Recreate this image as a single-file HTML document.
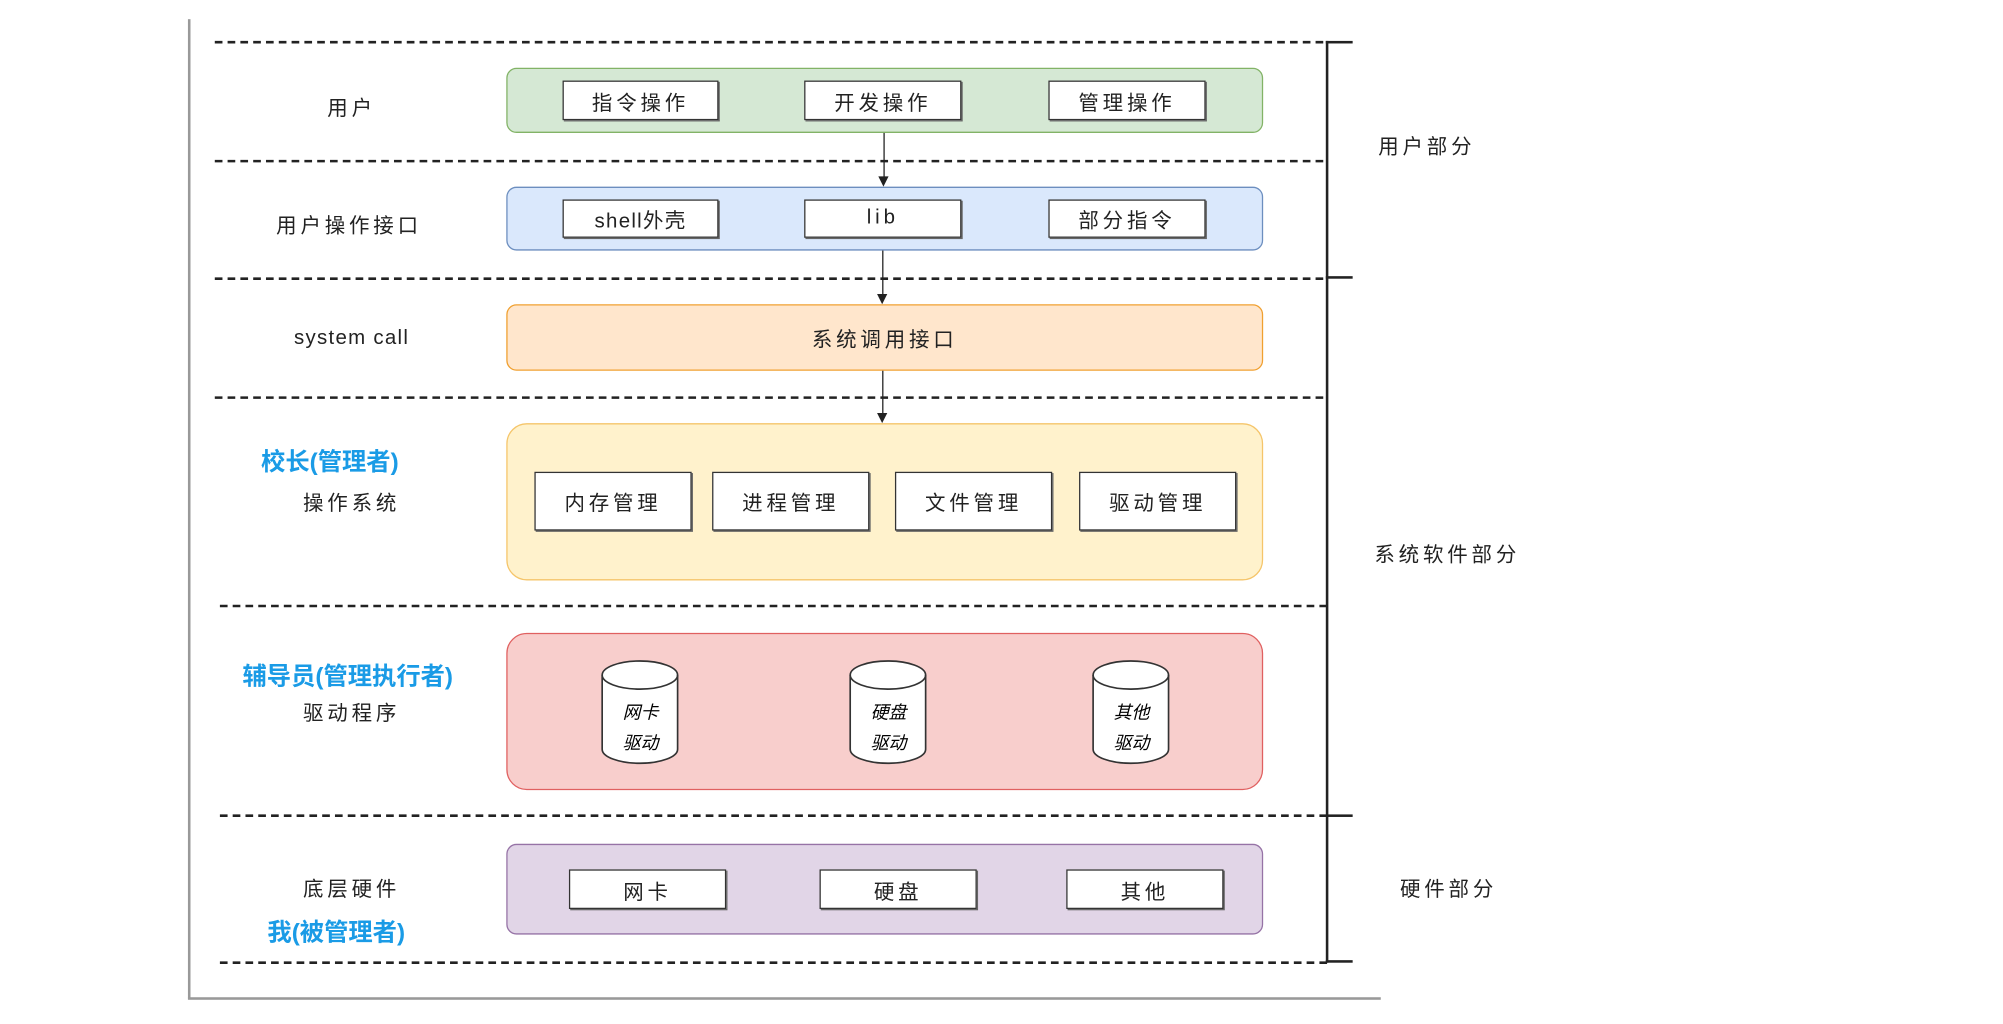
<!DOCTYPE html>
<html><head><meta charset="utf-8"><style>
html,body{margin:0;padding:0;background:#fff;width:2003px;height:1024px;overflow:hidden}
#s{position:absolute;left:0;top:0;width:1566px;height:801px;transform:scale(1.2785);transform-origin:0 0;font-family:"Liberation Sans","Noto Sans CJK SC",sans-serif;color:#222}
.a{position:absolute;box-sizing:border-box}
.d{position:absolute;height:0;border-top:2px dashed #222}
.b{position:absolute;box-sizing:border-box;border-radius:8px;border:1.2px solid}
.i{position:absolute;box-sizing:border-box;background:#fff;border:1.3px solid #333;box-shadow:1px 1px 0 #666;display:flex;align-items:center;justify-content:center;font-size:16px;letter-spacing:3px}
.t{position:absolute;transform:translate(-50%,-50%);white-space:nowrap;font-size:16px;letter-spacing:3px}
.bl{color:#1a9be6;font-weight:bold;letter-spacing:0;font-size:19px}
.ar{position:absolute;width:0;border-left:1.3px solid #222}
.ah{position:absolute;width:0;height:0;border-left:4px solid transparent;border-right:4px solid transparent;border-top:8px solid #222}
.cy{position:absolute;width:61px;height:82px}
</style></head><body><div id="s">
<div class="a" style="left:147px;top:15px;width:1.5px;height:766px;background:#999"></div>
<div class="a" style="left:147px;top:780px;width:933px;height:1.5px;background:#999"></div>
<div class="d" style="left:168px;width:867px;top:32px"></div>
<div class="d" style="left:168px;width:867px;top:125px"></div>
<div class="d" style="left:168px;width:867px;top:217px"></div>
<div class="d" style="left:168px;width:867px;top:310px"></div>
<div class="d" style="left:172px;width:866px;top:473px"></div>
<div class="d" style="left:172px;width:866px;top:637px"></div>
<div class="d" style="left:172px;width:866px;top:752px"></div>
<div class="a" style="left:1037px;top:32px;width:2px;height:721px;background:#222"></div>
<div class="a" style="left:1037px;top:32px;width:21px;height:2px;background:#222"></div>
<div class="a" style="left:1037px;top:216px;width:21px;height:2px;background:#222"></div>
<div class="a" style="left:1037px;top:637px;width:21px;height:2px;background:#222"></div>
<div class="a" style="left:1037px;top:751px;width:21px;height:2px;background:#222"></div>

<div class="b" style="left:396px;top:53px;width:592px;height:51px;background:#d5e8d4;border-color:#82b366"></div>
<div class="i" style="left:440px;top:63px;width:122px;height:31px">指令操作</div>
<div class="i" style="left:629px;top:63px;width:123px;height:31px">开发操作</div>
<div class="i" style="left:820px;top:63px;width:123px;height:31px">管理操作</div>

<div class="b" style="left:396px;top:146px;width:592px;height:50px;background:#dae8fc;border-color:#6c8ebf"></div>
<div class="i" style="left:440px;top:156px;width:122px;height:30px;letter-spacing:1px">shell外壳</div>
<div class="i" style="left:629px;top:156px;width:123px;height:30px">lib</div>
<div class="i" style="left:820px;top:156px;width:123px;height:30px">部分指令</div>

<div class="b" style="left:396px;top:238px;width:592px;height:52px;background:#ffe6cc;border-color:#f0a030;display:flex;align-items:center;justify-content:center;font-size:16px;letter-spacing:3px">系统调用接口</div>

<div class="b" style="left:396px;top:331px;width:592px;height:123px;background:#fff2cc;border-color:#f5c56a;border-radius:16px"></div>
<div class="i" style="left:418px;top:369px;width:123px;height:46px">内存管理</div>
<div class="i" style="left:557px;top:369px;width:123px;height:46px">进程管理</div>
<div class="i" style="left:700px;top:369px;width:123px;height:46px">文件管理</div>
<div class="i" style="left:844px;top:369px;width:123px;height:46px">驱动管理</div>

<div class="b" style="left:396px;top:495px;width:592px;height:123px;background:#f8cecc;border-color:#e06060;border-radius:16px"></div>
<svg class="cy" style="left:470px;top:516px" viewBox="0 0 61 82"><path d="M1,12 A29.5,11 0 0 1 60,12 V70 A29.5,11 0 0 1 1,70 Z" fill="#fff" stroke="#333" stroke-width="1.3"/><path d="M1,12 A29.5,11 0 0 0 60,12" fill="none" stroke="#333" stroke-width="1.3"/><text x="31" y="46" font-size="14" text-anchor="middle" font-family="Noto Sans CJK SC" font-style="italic">网卡</text><text x="31" y="70" font-size="14" text-anchor="middle" font-family="Noto Sans CJK SC" font-style="italic">驱动</text></svg>
<svg class="cy" style="left:664px;top:516px" viewBox="0 0 61 82"><path d="M1,12 A29.5,11 0 0 1 60,12 V70 A29.5,11 0 0 1 1,70 Z" fill="#fff" stroke="#333" stroke-width="1.3"/><path d="M1,12 A29.5,11 0 0 0 60,12" fill="none" stroke="#333" stroke-width="1.3"/><text x="31" y="46" font-size="14" text-anchor="middle" font-family="Noto Sans CJK SC" font-style="italic">硬盘</text><text x="31" y="70" font-size="14" text-anchor="middle" font-family="Noto Sans CJK SC" font-style="italic">驱动</text></svg>
<svg class="cy" style="left:854px;top:516px" viewBox="0 0 61 82"><path d="M1,12 A29.5,11 0 0 1 60,12 V70 A29.5,11 0 0 1 1,70 Z" fill="#fff" stroke="#333" stroke-width="1.3"/><path d="M1,12 A29.5,11 0 0 0 60,12" fill="none" stroke="#333" stroke-width="1.3"/><text x="31" y="46" font-size="14" text-anchor="middle" font-family="Noto Sans CJK SC" font-style="italic">其他</text><text x="31" y="70" font-size="14" text-anchor="middle" font-family="Noto Sans CJK SC" font-style="italic">驱动</text></svg>

<div class="b" style="left:396px;top:660px;width:592px;height:71px;background:#e1d5e7;border-color:#9673a6"></div>
<div class="i" style="left:445px;top:680px;width:123px;height:31px">网卡</div>
<div class="i" style="left:641px;top:680px;width:123px;height:31px">硬盘</div>
<div class="i" style="left:834px;top:680px;width:123px;height:31px">其他</div>

<div class="ar" style="left:691px;top:104px;height:36px"></div><div class="ah" style="left:687px;top:138px"></div>
<div class="ar" style="left:690px;top:196px;height:36px"></div><div class="ah" style="left:686px;top:230px"></div>
<div class="ar" style="left:690px;top:290px;height:35px"></div><div class="ah" style="left:686px;top:323px"></div>

<div class="t" style="left:275px;top:83px">用户</div>
<div class="t" style="left:273px;top:175px">用户操作接口</div>
<div class="t" style="left:275px;top:265px;letter-spacing:1px">system call</div>
<div class="t bl" style="left:258px;top:360px">校长(管理者)</div>
<div class="t" style="left:275px;top:392px">操作系统</div>
<div class="t bl" style="left:272px;top:528px">辅导员(管理执行者)</div>
<div class="t" style="left:275px;top:556px">驱动程序</div>
<div class="t" style="left:275px;top:694px">底层硬件</div>
<div class="t bl" style="left:263px;top:728px">我(被管理者)</div>
<div class="t" style="left:1116px;top:113px">用户部分</div>
<div class="t" style="left:1132px;top:432px">系统软件部分</div>
<div class="t" style="left:1133px;top:694px">硬件部分</div>
</div></body></html>
